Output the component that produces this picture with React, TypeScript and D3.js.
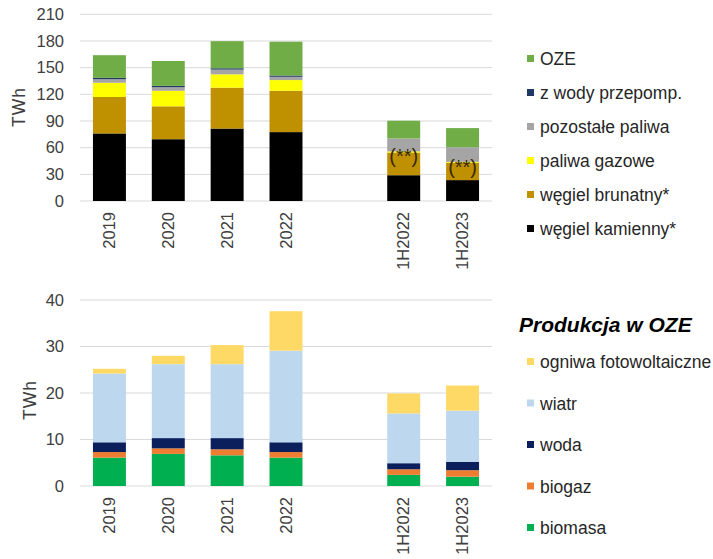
import * as d3 from "d3";

// categories (a blank slot sits between the annual and half-year bars)
const periods = ["2019", "2020", "2021", "2022", "1H2022", "1H2023"];
const slots = ["2019", "2020", "2021", "2022", "gap", "1H2022", "1H2023"];

// top chart: production by fuel, TWh
const kamienny = [76, 69.5, 81.5, 77.5, 29, 23.5];
const brunatny = [41, 37, 46, 46.5, 25.5, 19.5];
const gazowe = [16, 17.5, 15, 12, 1.3, 1];
const pozostale = [4, 4, 5.3, 3.7, 14.5, 16.5];
const pompowe = [1.5, 1.5, 1.5, 1.5, 0, 0];
const oze = [25.5, 28, 30.5, 38, 20, 21.5];
const topTicks = [0, 30, 60, 90, 120, 150, 180, 210];

// bottom chart: renewables, TWh
const biomasa = [6.1, 6.9, 6.6, 6.1, 2.4, 2.0];
const biogaz = [1.2, 1.2, 1.3, 1.2, 1.2, 1.4];
const woda = [2.1, 2.2, 2.4, 2.1, 1.3, 1.8];
const wiatr = [14.8, 15.9, 15.9, 19.7, 10.7, 11.0];
const fotowolt = [1.0, 1.8, 4.1, 8.5, 4.3, 5.4];
const bottomTicks = [0, 10, 20, 30, 40];

const topSeries = [
  { key: "kamienny", label: "węgiel kamienny*", color: "#000000", values: kamienny },
  { key: "brunatny", label: "węgiel brunatny*", color: "#BF9000", values: brunatny },
  { key: "gazowe", label: "paliwa gazowe", color: "#FFFF00", values: gazowe },
  { key: "pozostale", label: "pozostałe paliwa", color: "#A5A5A5", values: pozostale },
  { key: "pompowe", label: "z wody przepomp.", color: "#1F3864", values: pompowe },
  { key: "oze", label: "OZE", color: "#70AD47", values: oze },
];

const bottomSeries = [
  { key: "biomasa", label: "biomasa", color: "#00B050", values: biomasa },
  { key: "biogaz", label: "biogaz", color: "#ED7D31", values: biogaz },
  { key: "woda", label: "woda", color: "#0B1F5C", values: woda },
  { key: "wiatr", label: "wiatr", color: "#BDD7EE", values: wiatr },
  { key: "fotowolt", label: "ogniwa fotowoltaiczne", color: "#FFD966", values: fotowolt },
];

const W = 713;
const H = 559;
const FONT = "'Liberation Sans', Arial, sans-serif";
const TEXT = "#404040";

const x = d3.scaleBand().domain(slots).range([80, 492]).paddingInner(0.44).paddingOuter(0.22);

function buildStack(series) {
  const rows = periods.map((p, i) => {
    const r = { period: p };
    series.forEach((s) => (r[s.key] = s.values[i]));
    return r;
  });
  return d3.stack().keys(series.map((s) => s.key))(rows);
}

function Panel({ series, ticks, y, axisY, labelX, labelY, legendX, legendY, legendStep, notes }) {
  const stacked = buildStack(series);
  const [x0, x1] = x.range();
  const labelOffset = 11;
  return (
    <g>
      {ticks.map((t) => (
        <g key={t}>
          <line x1={x0} x2={x1} y1={y(t)} y2={y(t)} stroke="#D9D9D9" strokeWidth={1} />
          <text x={64} y={y(t)} dy="0.35em" textAnchor="end" fontSize={16.5} fill={TEXT}>
            {t}
          </text>
        </g>
      ))}
      <text
        transform={`translate(${labelX},${labelY}) rotate(-90)`}
        textAnchor="middle"
        fontSize={17.5}
        letterSpacing={1}
        fill={TEXT}
      >
        TWh
      </text>
      {stacked.map((layer, li) => (
        <g key={layer.key} fill={series[li].color}>
          {layer.map((d) => (
            <rect
              key={d.data.period}
              x={x(d.data.period)}
              width={x.bandwidth()}
              y={y(d[1])}
              height={Math.max(0, y(d[0]) - y(d[1]))}
            />
          ))}
        </g>
      ))}
      {notes &&
        notes.map((n) => {
          const i = periods.indexOf(n);
          const layer = stacked.find((l) => l.key === "gazowe");
          const d = layer[i];
          return (
            <text
              key={n}
              x={x(n) + x.bandwidth() / 2}
              y={y((d[0] + d[1]) / 2) + 6}
              dy="0.27em"
              textAnchor="middle"
              fontSize={20}
              fill="#3a2a00"
            >
              (**)
            </text>
          );
        })}
      {periods.map((p) => (
        <text
          key={p}
          transform={`translate(${x(p) + x.bandwidth() / 2},${axisY + labelOffset}) rotate(-90)`}
          textAnchor="end"
          dy="0.35em"
          fontSize={16.5}
          fill={TEXT}
        >
          {p}
        </text>
      ))}
      {series
        .slice()
        .reverse()
        .map((s, i) => (
          <g key={s.key} transform={`translate(${legendX},${legendY + i * legendStep})`}>
            <rect x={0} y={-4} width={7} height={7} fill={s.color} />
            <text x={13} y={0} dy="0.35em" fontSize={17.5} fill="#262626">
              {s.label}
            </text>
          </g>
        ))}
    </g>
  );
}

export default function App() {
  const yTop = d3.scaleLinear().domain([0, 210]).range([201, 14.3]);
  const yBottom = d3.scaleLinear().domain([0, 40]).range([486, 300]);
  return (
    <svg
      width={W}
      height={H}
      style={{ position: "absolute", left: 0, top: 0, background: "#fff" }}
      fontFamily={FONT}
    >
      <Panel
        series={topSeries}
        ticks={topTicks}
        y={yTop}
        axisY={201}
        labelX={25}
        labelY={107}
        legendX={527}
        legendY={59}
        legendStep={34}
        notes={["1H2022", "1H2023"]}
      />
      <Panel
        series={bottomSeries}
        ticks={bottomTicks}
        y={yBottom}
        axisY={486}
        labelX={36}
        labelY={400}
        legendX={527}
        legendY={362}
        legendStep={41.5}
      />
      <text x={519} y={325} dy="0.35em" fontSize={21} fontWeight="bold" fontStyle="italic" fill="#000">
        Produkcja w OZE
      </text>
    </svg>
  );
}
